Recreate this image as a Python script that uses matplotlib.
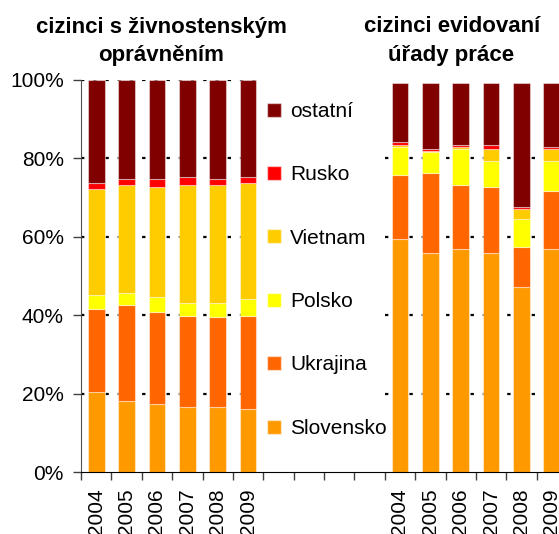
import numpy as np
import matplotlib.pyplot as plt
from matplotlib.patches import Patch

plt.rcParams['font.family'] = ['Liberation Sans', 'DejaVu Sans']

years = ['2004', '2005', '2006', '2007', '2008', '2009']
series = ['Slovensko', 'Ukrajina', 'Polsko', 'Vietnam', 'Rusko', 'ostatní']
colors = ['#FF9900', '#FF6600', '#FFFF00', '#FFCC00', '#FF0000', '#800000']

# cizinci s zivnostenskym opravnenim (%)
left_vals = {
    'Slovensko': [20.5, 18.0, 17.4, 16.5, 16.5, 16.0],
    'Ukrajina':  [21.0, 24.5, 23.5, 23.4, 23.0, 23.9],
    'Polsko':    [3.7, 3.1, 3.7, 3.1, 3.5, 4.2],
    'Vietnam':   [26.9, 27.5, 28.0, 30.1, 30.1, 29.5],
    'Rusko':     [1.5, 1.6, 2.1, 2.1, 1.6, 1.6],
    'ostatní':   [26.4, 25.3, 25.3, 24.8, 25.3, 24.8],
}
# cizinci evidovani urady prace (%)
right_vals = {
    'Slovensko': [59.4, 55.9, 56.8, 55.9, 47.3, 56.8],
    'Ukrajina':  [16.4, 20.3, 16.3, 16.7, 10.1, 14.8],
    'Polsko':    [7.2, 5.4, 9.4, 6.8, 7.1, 7.7],
    'Vietnam':   [0.4, 0.2, 0.3, 2.9, 2.5, 3.0],
    'Rusko':     [0.7, 0.5, 0.5, 1.2, 0.7, 0.7],
    'ostatní':   [15.1, 16.9, 15.9, 15.7, 31.5, 16.2],
}

W, H = 559, 534
fig = plt.figure(figsize=(W / 100, H / 100), dpi=100)
ax = fig.add_axes([81 / W, 62 / H, 486 / W, 392 / H])

x_left = np.arange(6)
x_right = np.arange(6) + 10
bw = 0.55

for xs, vals, top in [(x_left, left_vals, 1.0), (x_right, right_vals, 0.8)]:
    for lv in np.arange(0.2, top + 0.01, 0.2):
        ax.hlines(lv, xs[0] - 0.5, xs[-1] + 0.5, colors='black',
                  linestyles=(0, (1.5, 4)), linewidth=1.6, zorder=1)
    bottom = np.zeros(6)
    for name, c in zip(series, colors):
        v = np.array(vals[name]) / 100
        ax.bar(xs, v, bw, bottom=bottom, color=c, edgecolor=(1, 1, 1, 0.45),
               linewidth=0.8, zorder=2)
        bottom += v

ax.set_xlim(-0.5, 15.5)
ax.set_ylim(0, 1)
ax.set_yticks(np.arange(0, 1.01, 0.2))
ax.set_yticklabels([f'{int(round(t * 100))}%' for t in np.arange(0, 1.01, 0.2)],
                   fontsize=15)
ax.tick_params(axis='y', length=6, width=1, pad=6.5, color='#404040')

ax.set_xticks(np.arange(-0.5, 16, 1), minor=True)
ax.set_xticks(np.concatenate([x_left, x_right]))
ax.set_xticklabels(years + years, rotation=90, fontsize=15)
ax.tick_params(axis='x', which='major', length=0, pad=12)
ax.tick_params(axis='x', which='minor', length=6, width=1, color='#404040')

for s in ['top', 'right']:
    ax.spines[s].set_visible(False)
ax.spines['left'].set_color('#505050')
ax.spines['bottom'].set_color('black')

handles = [Patch(facecolor=c, edgecolor=(1, 1, 1, 0.5)) for c in colors][::-1]
fig.legend(handles, series[::-1], loc='upper left',
           bbox_to_anchor=(267 / W, 1 - 102 / H), frameon=False, fontsize=15,
           handlelength=0.65, handleheight=0.65, handletextpad=0.45,
           labelspacing=2.13, borderpad=0, borderaxespad=0)

tkw = dict(ha='center', va='center', fontsize=16, fontweight='bold')
fig.text(161 / W, 1 - 27 / H, 'cizinci s živnostenským', **tkw)
fig.text(161 / W, 1 - 55 / H, 'oprávněním', **tkw)
fig.text(452 / W, 1 - 27 / H, 'cizinci evidovaní', **tkw)
fig.text(451 / W, 1 - 55 / H, 'úřady práce', **tkw)

fig.savefig('out.png', dpi=100)
